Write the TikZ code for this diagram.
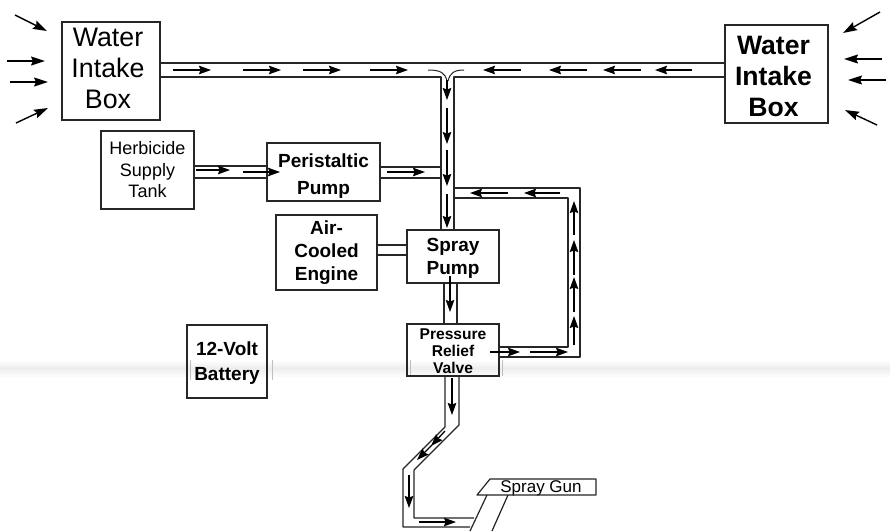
\documentclass[tikz,border=0pt]{standalone}
\usepackage{fontspec}
\setmainfont{Liberation Sans}
\usetikzlibrary{arrows.meta,shadings}
\tikzset{
  x=1pt,y=-1pt,
  box/.style={draw=black!85,line width=1.2pt,rectangle,inner sep=0pt,align=center,anchor=center},
  pipe/.style={draw=black!85,line width=1.2pt,line join=round},
  flowline/.style={draw=black,line width=1.3pt,-{Stealth[length=12pt,width=8.5pt,inset=1.5pt]}},
  inflow/.style={draw=black,line width=1.4pt,-{Stealth[length=14pt,width=9pt,inset=2pt]}},
  scanmark/.style={draw=black!25,line width=1pt}
}
\newcommand{\flw}[2]{\draw[flowline] (#1) -- (#2);}
% moves a block of text left by #1 and down by #2 inside its centred node
\newcommand{\nudge}[3]{\hspace*{#1}\raisebox{0pt}[\dimexpr\height+#2\relax][\dimexpr\depth-#2\relax]{\begin{tabular}{@{}c@{}}#3\end{tabular}}}
\begin{document}
\begin{tikzpicture}
\useasboundingbox (0,0) rectangle (890,531);
\fill[white] (0,0) rectangle (890,531);
% scanner band
\shade[top color=white,bottom color=black!7,draw=none] (0,360) rectangle (890,368);
\shade[top color=black!7,bottom color=white,draw=none] (0,368) rectangle (890,378);
\draw[scanmark] (190,360) -- (190,380) (272,360) -- (272,380) (410,360) -- (410,376) (502,360) -- (502,376);

% boxes
\node[box,minimum width=98pt,minimum height=98pt,font=\fontsize{26.8pt}{31pt}\selectfont] (wl) at (111,71) {\nudge{-6pt}{0pt}{Water\\Intake\\Box}};
\node[box,minimum width=103pt,minimum height=98pt,font=\fontsize{26.6pt}{31pt}\selectfont\bfseries] (wr) at (776.5,74) {\nudge{-6pt}{5pt}{Water\\Intake\\Box}};
\node[box,minimum width=93pt,minimum height=78pt,font=\fontsize{18pt}{21.5pt}\selectfont] (ht) at (147.5,170) {Herbicide\\Supply\\Tank};
\node[box,minimum width=113pt,minimum height=58pt,font=\fontsize{19pt}{27pt}\selectfont\bfseries] (pp) at (323.5,172) {\nudge{0pt}{4pt}{Peristaltic\\Pump}};
\node[box,minimum width=101pt,minimum height=75pt,font=\fontsize{19pt}{23pt}\selectfont\bfseries] (ae) at (326.5,252.5) {Air-\\Cooled\\Engine};
\node[box,minimum width=92pt,minimum height=53pt,font=\fontsize{19pt}{23pt}\selectfont\bfseries] (sp) at (453,256.5) {\nudge{0pt}{2pt}{Spray\\Pump}};
\node[box,minimum width=92pt,minimum height=52pt,font=\fontsize{15.6pt}{17pt}\selectfont\bfseries] (pv) at (453,350) {\nudge{0pt}{3pt}{Pressure\\Relief\\Valve}};
\node[box,minimum width=80pt,minimum height=73pt,font=\fontsize{19pt}{25pt}\selectfont\bfseries] (bt) at (227,361.5) {\nudge{0pt}{1pt}{12-Volt\\Battery}};
\node[font=\fontsize{17pt}{20pt}\selectfont,inner sep=0pt] (sg) at (541,488) {Spray Gun};
\draw[pipe] (477,495) -- (490,479) -- (596,479) -- (596,495) -- cycle;

% pipes
\coordinate (jl) at (441,77);
\coordinate (jr) at (454,77);
\draw[pipe] (wl.east |- 0,63) -- (wr.west |- 0,63);
\draw[pipe] (wl.east |- 0,77) -- (jl) -- (441,230);
\draw[pipe] (wr.west |- 0,77) -- (jr) -- (454,230);
\draw[pipe,line width=1pt] (428,70) .. controls (441,70) and (445,73) .. (447,81);
\draw[pipe,line width=1pt] (464,70) .. controls (454,70) and (450,73) .. (448,81);
\draw[pipe] (ht.east |- 0,166) -- (pp.west |- 0,166);
\draw[pipe] (ht.east |- 0,178) -- (pp.west |- 0,178);
\draw[pipe] (pp.east |- 0,167) -- (441,167);
\draw[pipe] (pp.east |- 0,178) -- (441,178);
\draw[pipe] (ae.east |- 0,245) -- (sp.west |- 0,245);
\draw[pipe] (ae.east |- 0,255) -- (sp.west |- 0,255);
\draw[pipe] (444,283) -- (444,324);
\draw[pipe] (457,283) -- (457,324);
\draw[pipe] (454,188) -- (580,188) -- (580,357) -- (pv.east |- 0,357);
\draw[pipe] (454,198) -- (568,198) -- (568,347) -- (pv.east |- 0,347);
\draw[pipe] (445,376) -- (445,427) -- (403,469) -- (403,527) -- (470,527);
\draw[pipe] (459,376) -- (459,425) -- (414,470) -- (414,518) -- (474,518);
\draw[pipe] (487,495) -- (470,531);
\draw[pipe] (508,495) -- (492,531);

% flow arrows, top pipe
\flw{173,70}{211,70} \flw{243,70}{281,70} \flw{303,70}{341,70} \flw{370,70}{408,70}
\flw{521,70}{483,70} \flw{587,70}{549,70} \flw{641,70}{603,70} \flw{692,70}{655,70}
% vertical
\flw{447,80}{447,100} \flw{447,108}{447,144} \flw{447,150}{447,186} \flw{447,194}{447,228}
% herbicide, peristaltic
\flw{196,170}{230,170} \flw{243,172}{280,172} \flw{387,172}{425,172}
% return
\flw{508,193}{470,193} \flw{560,193}{524,193}
\flw{574,345}{574,316} \flw{574,312}{574,277} \flw{574,275}{574,240} \flw{574,235}{574,201}
\flw{490,352}{520,352} \flw{530,352}{568,352}
% pump outlet
\flw{450,276}{450,312}
% lower pipe
\flw{452,378}{452,415}
\draw[flowline] (445,431) -- (431,446);
\draw[flowline] (432,445) -- (417,460);
\flw{409,475}{409,508}
\flw{419,522}{456,522}

% intake arrows
\draw[inflow] (15,15) -- (47,31);
\draw[inflow] (7,61) -- (45,61);
\draw[inflow] (10,82) -- (48,82);
\draw[inflow] (16,123) -- (48,108);
\draw[inflow] (880,12) -- (843,33);
\draw[inflow] (882,59) -- (844,59);
\draw[inflow] (886,80) -- (848,80);
\draw[inflow] (877,125) -- (845,110);
\end{tikzpicture}
\end{document}
